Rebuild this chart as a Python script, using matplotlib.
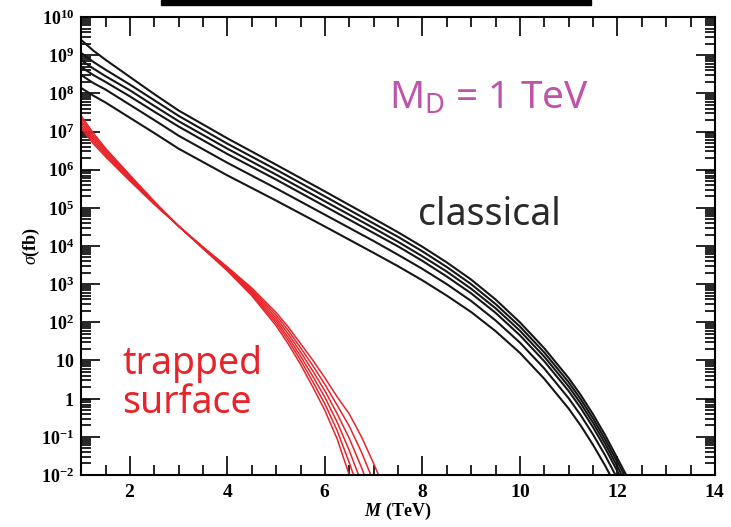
import numpy as np
import matplotlib
matplotlib.use("Agg")
import matplotlib.pyplot as plt
from matplotlib.ticker import LogLocator, FuncFormatter, MultipleLocator, NullFormatter
from matplotlib.patches import Rectangle

plt.rcParams['mathtext.fontset'] = 'custom'
plt.rcParams['mathtext.rm'] = 'Liberation Serif'
plt.rcParams['mathtext.bf'] = 'Liberation Serif:bold'
plt.rcParams['mathtext.it'] = 'Liberation Serif:italic'
plt.rcParams['mathtext.bfit'] = 'Liberation Serif:bold:italic'

# classical cross sections, log10(sigma / fb)
m_classical = [1, 1.25, 1.5, 2, 2.5, 3, 4, 5, 6, 7, 7.5, 8, 8.5, 9, 9.5, 10,
               10.5, 11, 11.25, 11.5, 11.75]
classical_logs = [
    [9.40, 9.12, 8.88, 8.43, 7.98, 7.55, 6.82, 6.13, 5.43, 4.72, 4.36, 3.98, 3.57,
     3.12, 2.60, 2.00, 1.32, 0.54, 0.09, -0.41, -0.96],
    [9.06, 8.825, 8.62, 8.23, 7.82, 7.41, 6.68, 6.00, 5.30, 4.59, 4.24, 3.86, 3.45,
     3.00, 2.48, 1.89, 1.21, 0.43, -0.02, -0.52, -1.07],
    [8.87, 8.65, 8.45, 8.08, 7.67, 7.27, 6.55, 5.87, 5.17, 4.47, 4.11, 3.73, 3.33,
     2.88, 2.37, 1.78, 1.10, 0.32, -0.13, -0.63, -1.18],
    [8.69, 8.48, 8.30, 7.92, 7.52, 7.13, 6.41, 5.74, 5.04, 4.34, 3.99, 3.61, 3.20,
     2.76, 2.25, 1.66, 0.98, 0.20, -0.25, -0.75, -1.30],
    [8.48, 8.27, 8.10, 7.70, 7.30, 6.89, 6.18, 5.51, 4.82, 4.13, 3.77, 3.40, 3.00,
     2.56, 2.05, 1.47, 0.79, 0.01, -0.44, -0.94, -1.49],
    [8.14, 7.94, 7.76, 7.36, 6.96, 6.55, 5.85, 5.19, 4.51, 3.82, 3.47, 3.10, 2.70,
     2.27, 1.77, 1.20, 0.52, -0.26, -0.71, -1.21, -1.76],
]
classical_end = [12.18, 12.14, 12.09, 12.04, 11.96, 11.85]  # where each curve reaches 1e-2

# trapped surface cross sections, log10(sigma / fb)
m_trapped = [1, 1.25, 1.5, 2, 2.5, 3, 3.5, 4, 4.5, 5, 5.25, 5.5, 5.75, 6, 6.25,
             6.5, 6.75, 7, 7.25]
trapped_logs = [
    [7.41, 6.96, 6.56, 5.86, 5.17, 4.52, 3.93, 3.35, 2.70, 1.91, 1.43, 0.90, 0.31,
     -0.31, -1.05, -2.00, -3.00, -4.10, -5.25],
    [7.35, 6.90, 6.52, 5.83, 5.15, 4.52, 3.94, 3.37, 2.74, 1.98, 1.52, 1.01, 0.45,
     -0.14, -0.83, -1.68, -2.60, -3.62, -4.69],
    [7.28, 6.85, 6.47, 5.80, 5.14, 4.52, 3.945, 3.39, 2.78, 2.045, 1.605, 1.115, 0.59,
     0.035, -0.61, -1.36, -2.20, -3.14, -4.13],
    [7.22, 6.79, 6.43, 5.765, 5.12, 4.52, 3.955, 3.41, 2.82, 2.115, 1.695, 1.225, 0.73,
     0.205, -0.39, -1.04, -1.80, -2.66, -3.57],
    [7.15, 6.74, 6.38, 5.735, 5.11, 4.52, 3.965, 3.43, 2.86, 2.185, 1.785, 1.335, 0.87,
     0.375, -0.17, -0.72, -1.40, -2.18, -3.01],
    [7.09, 6.68, 6.34, 5.705, 5.09, 4.52, 3.975, 3.45, 2.90, 2.255, 1.875, 1.445, 1.01,
     0.545, 0.05, -0.40, -1.00, -1.70, -2.45],
]

fig = plt.figure(figsize=(7.31, 5.27), dpi=100)
ax = fig.add_axes([0.111, 0.0987, 0.867, 0.869])

for logs, m_end in zip(classical_logs, classical_end):
    x = list(m_classical) + [m_end]
    y = 10.0 ** np.array(list(logs) + [-2.0])
    ax.plot(x, y, color='#161616', lw=1.5)

for logs in trapped_logs:
    ax.plot(m_trapped, 10.0 ** np.array(logs), color='#e8242a', lw=1.1)

ax.set_yscale('log')
ax.set_xlim(1, 14)
ax.set_ylim(1e-2, 1e10)

ax.xaxis.set_major_locator(MultipleLocator(2))
ax.xaxis.set_minor_locator(MultipleLocator(0.5))
ax.yaxis.set_major_locator(LogLocator(base=10, numticks=30))
ax.yaxis.set_minor_locator(LogLocator(base=10, subs=np.arange(2, 10), numticks=30))
ax.yaxis.set_minor_formatter(NullFormatter())


def ylab(v, pos):
    e = int(round(np.log10(v)))
    if e == 0:
        return r'$\mathbf{1}$'
    if e == 1:
        return r'$\mathbf{10}$'
    return r'$\mathbf{10^{%d}}$' % e


ax.yaxis.set_major_formatter(FuncFormatter(ylab))
ax.xaxis.set_major_formatter(FuncFormatter(lambda v, p: r'$\mathbf{%d}$' % v))

ax.tick_params(which='both', direction='in', top=True, right=True, width=1.2)
ax.tick_params(which='major', length=14, labelsize=14)
ax.tick_params(which='minor', length=7)
ax.tick_params(axis='y', which='major', pad=5, labelsize=13)
ax.tick_params(axis='x', which='major', pad=5)
for s in ax.spines.values():
    s.set_linewidth(1.5)

ax.set_xlabel(r'$\mathbfit{M}$ $\mathbf{(TeV)}$', fontsize=13, labelpad=0)
ax.set_ylabel(r'$\sigma\mathbf{(fb)}$', fontsize=13, labelpad=-1)

ax.text(0.643, 0.822, r'M$_\mathregular{D}$ = 1 TeV', transform=ax.transAxes,
        fontsize=28, color='#bf55aa', family='Noto Sans', ha='center', va='center')
ax.text(0.645, 0.568, 'classical', transform=ax.transAxes,
        fontsize=27, color='#2a2a2a', family='Noto Sans', ha='center', va='center')
ax.text(0.065, 0.2, 'trapped\nsurface', transform=ax.transAxes,
        fontsize=27, color='#e8242a', family='Noto Sans', ha='left', va='center',
        linespacing=1.05)

# black bar along the top edge of the picture
fig.patches.append(Rectangle((161 / 731, 1 - 5 / 527), 430 / 731, 5 / 527,
                             transform=fig.transFigure, color='black', zorder=5))

fig.savefig('out.png', dpi=100)
